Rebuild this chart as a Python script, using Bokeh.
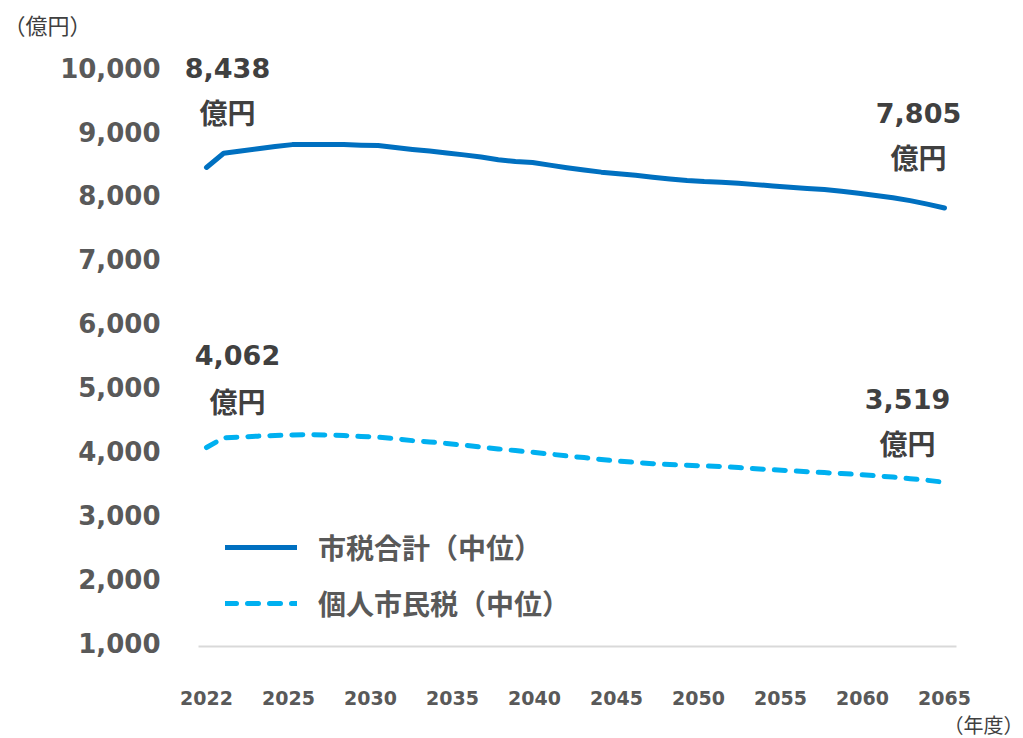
import numpy as np
from bokeh.plotting import figure
from bokeh.models import FixedTicker, NumeralTickFormatter, Range1d, Legend, LegendItem, Title
from bokeh.core.properties import value
from bokeh.embed import file_html
from bokeh.resources import INLINE

# ---------------- data ----------------
years = list(range(2022, 2066))
total_tax = [8438, 8660, 8695, 8730, 8765, 8795, 8797, 8797, 8795, 8785,
             8780, 8750, 8720, 8695, 8665, 8635, 8600, 8560, 8530, 8515,
             8475, 8435, 8400, 8365, 8340, 8315, 8285, 8258, 8235, 8218,
             8208, 8190, 8170, 8150, 8130, 8110, 8092, 8065, 8035, 8000,
             7965, 7920, 7865, 7805]
resident_tax = [4062, 4215, 4225, 4240, 4250, 4258, 4262, 4258, 4250, 4235,
                4225, 4200, 4170, 4150, 4125, 4100, 4070, 4040, 4015, 3990,
                3960, 3930, 3905, 3875, 3850, 3830, 3810, 3795, 3785, 3775,
                3765, 3750, 3730, 3715, 3700, 3685, 3670, 3655, 3640, 3620,
                3600, 3575, 3550, 3519]
x_tick_labels = ["2022", "2025", "2030", "2035", "2040", "2045", "2050", "2055", "2060", "2065"]
y_ticks = [1000, 2000, 3000, 4000, 5000, 6000, 7000, 8000, 9000, 10000]
series_names = ["市税合計（中位）", "個人市民税（中位）"]
unit_label = "（億円）"
x_unit_label = "（年度）"
value_unit = "億円"

DARK = "#404040"
GREY = "#595959"
NUM_FONT = "DejaVu Sans"
CJK_FONT = "Noto Sans CJK JP"

p = figure(frame_width=800, frame_height=606, output_backend="svg", toolbar_location=None,
           x_range=Range1d(2020.194, 2066.806), y_range=Range1d(953, 10421.9),
           min_border_left=175, min_border_right=48, min_border_top=40, min_border_bottom=92)
p.outline_line_color = None
p.xgrid.grid_line_color = None
p.ygrid.grid_line_color = None
p.background_fill_color = "white"
p.border_fill_color = "white"

# title used as the y-unit caption
p.title.text = unit_label
p.title.align = "left"
p.title.offset = -172
p.title.standoff = 2
p.title.text_font = CJK_FONT
p.title.text_font_style = "normal"
p.title.text_font_size = "22px"
p.title.text_color = DARK

# x axis
x_ticks = [float(t) for t in np.linspace(years[0], years[-1], len(x_tick_labels))]
p.xaxis.ticker = FixedTicker(ticks=x_ticks)
p.xaxis.major_label_overrides = {t: lab for t, lab in zip(x_ticks, x_tick_labels)}
p.xaxis.bounds = (2021.534, 2065.699)
p.xaxis.axis_line_color = "#D9D9D9"
p.xaxis.axis_line_width = 2
p.xaxis.major_tick_out = 0
p.xaxis.major_tick_in = 0
p.xaxis.minor_tick_out = 0
p.xaxis.minor_tick_in = 0
p.xaxis.major_label_standoff = 44
p.xaxis.major_label_text_font = NUM_FONT
p.xaxis.major_label_text_font_style = "bold"
p.xaxis.major_label_text_font_size = "19px"
p.xaxis.major_label_text_color = GREY

# x unit caption below the axis, right aligned
p.add_layout(Title(text=x_unit_label, align="right", offset=-48, standoff=0,
                   text_font=CJK_FONT, text_font_style="normal",
                   text_font_size="20px", text_color=DARK), "below")

# y axis
p.yaxis.ticker = FixedTicker(ticks=y_ticks)
p.yaxis.formatter = NumeralTickFormatter(format="0,0")
p.yaxis.axis_line_color = None
p.yaxis.major_tick_out = 0
p.yaxis.major_tick_in = 0
p.yaxis.minor_tick_out = 0
p.yaxis.minor_tick_in = 0
p.yaxis.major_label_standoff = 15
p.yaxis.major_label_text_font = NUM_FONT
p.yaxis.major_label_text_font_style = "bold"
p.yaxis.major_label_text_font_size = "26px"
p.yaxis.major_label_text_color = GREY

# lines
r1 = p.line(years, total_tax, line_color="#0070C0", line_width=5,
            line_join="round", line_cap="round")
r2 = p.line(years, resident_tax, line_color="#00B0F0", line_width=5,
            line_dash="11 11", line_join="round", line_cap="round")

# end-point annotations
def annotate(x, y, dx, dy_num, dy_unit):
    p.text(x=[x], y=[y], text=[f"{y:,}"], x_offset=dx, y_offset=dy_num,
           text_align="center", text_baseline="middle",
           text_font=value(NUM_FONT), text_font_style="bold",
           text_font_size="27px", text_color=DARK)
    p.text(x=[x], y=[y], text=[value_unit], x_offset=dx, y_offset=dy_unit,
           text_align="center", text_baseline="middle",
           text_font=value(CJK_FONT), text_font_style="bold",
           text_font_size="28px", text_color=DARK)

annotate(years[0], total_tax[0], 21, -99, -55)
annotate(years[-1], total_tax[-1], -26, -95, -51)
annotate(years[0], resident_tax[0], 31, -93, -47)
annotate(years[-1], resident_tax[-1], -37, -83, -39)

# legend
legend = Legend(items=[LegendItem(label=series_names[0], renderers=[r1]),
                       LegendItem(label=series_names[1], renderers=[r2])],
                location=(50, 23), orientation="vertical",
                glyph_width=72, glyph_height=30, label_height=30,
                spacing=16, label_standoff=21, padding=0, margin=0,
                border_line_color=None, background_fill_alpha=0,
                label_text_font=CJK_FONT, label_text_font_style="bold",
                label_text_font_size="28px", label_text_color=GREY)
p.add_layout(legend)

open("out.html", "w").write(file_html(p, INLINE))
